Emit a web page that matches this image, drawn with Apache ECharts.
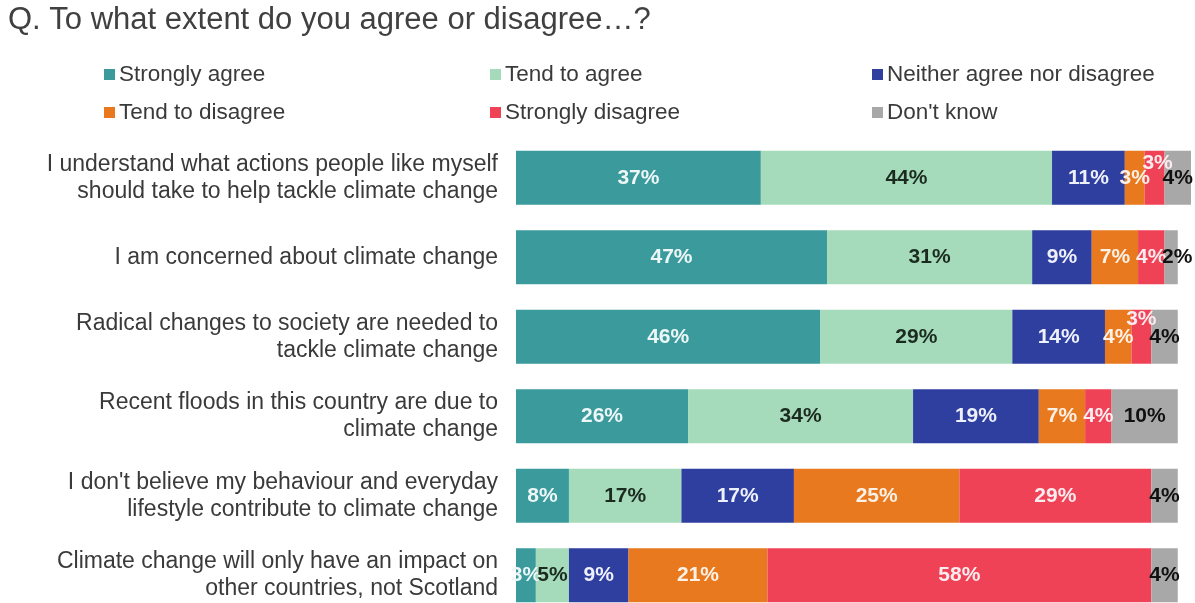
<!DOCTYPE html>
<html>
<head>
<meta charset="utf-8">
<script src="https://cdn.jsdelivr.net/npm/echarts@6/dist/echarts.min.js"></script>
<style>
  html, body { margin: 0; padding: 0; background: #ffffff; }
  #chart { width: 1195px; height: 603px; }
</style>
</head>
<body>
<div id="chart"></div>
<script>
// Survey statements (top to bottom)
const statements = [
  'I understand what actions people like myself\nshould take to help tackle climate change',
  'I am concerned about climate change',
  'Radical changes to society are needed to\ntackle climate change',
  'Recent floods in this country are due to\nclimate change',
  "I don't believe my behaviour and everyday\nlifestyle contribute to climate change",
  'Climate change will only have an impact on\nother countries, not Scotland'
];

// Response shares, % (one value per statement)
const stronglyAgree   = [37, 47, 46, 26, 8, 3];
const tendToAgree     = [44, 31, 29, 34, 17, 5];
const neither         = [11, 9, 14, 19, 17, 9];
const tendToDisagree  = [3, 7, 4, 7, 25, 21];
const stronglyDisagree = [3, 4, 3, 4, 29, 58];
const dontKnow        = [4, 2, 4, 10, 4, 4];

const responseNames = ['Strongly agree', 'Tend to agree', 'Neither agree nor disagree',
  'Tend to disagree', 'Strongly disagree', "Don't know"];
const responseValues = [stronglyAgree, tendToAgree, neither, tendToDisagree, stronglyDisagree, dontKnow];
const colors = ['#3a9a9c', '#a5dbbb', '#2e3fa0', '#e8791f', '#ef4257', '#a8a8a8'];
const labelColors = ['#eef7f7', '#1c2b20', '#eef0fb', '#fdf1e6', '#fdecef', '#111111'];

const FONT = 'Liberation Sans, Arial, sans-serif';

// Small segments whose labels are nudged so they stay readable
const labelNudges = {
  '4-0': [3, -15],
  '4-2': [0, -18],
  '5-1': [6, 0]
};

const series = responseNames.map((name, s) => ({
  name: name,
  type: 'bar',
  stack: 'total',
  barWidth: 54,
  itemStyle: { color: colors[s] },
  label: {
    show: true,
    position: 'inside',
    formatter: '{c}%',
    color: labelColors[s],
    fontFamily: FONT,
    fontWeight: 'bold',
    fontSize: 21
  },
  data: responseValues[s].map((v, i) => {
    const nudge = labelNudges[s + '-' + i];
    return nudge ? { value: v, label: { offset: nudge } } : v;
  })
}));

// One legend block per response, laid out in a 3 x 2 grid
const legendCols = [104, 490, 872];
const legendRows = [63, 101];
const legends = responseNames.map((name, k) => ({
  data: [name],
  left: legendCols[k % 3],
  top: legendRows[Math.floor(k / 3)],
  padding: 0,
  icon: 'rect',
  itemWidth: 11,
  itemHeight: 11,
  itemGap: 0,
  selectedMode: false,
  textStyle: {
    fontFamily: FONT,
    fontSize: 22.5,
    color: '#3a3a3a',
    padding: [0, 0, 0, -1]
  }
}));

const chart = echarts.init(document.getElementById('chart'), null, { renderer: 'canvas' });
chart.setOption({
  backgroundColor: '#ffffff',
  animation: false,
  color: colors,
  title: {
    text: 'Q. To what extent do you agree or disagree\u2026?',
    left: 8,
    top: 5,
    padding: 0,
    textStyle: {
      fontFamily: FONT,
      fontWeight: 'normal',
      fontSize: 31,
      color: '#404040'
    }
  },
  legend: legends,
  grid: { left: 516, top: 138, width: 675, height: 477, outerBoundsMode: 'none' },
  xAxis: {
    type: 'value',
    min: 0,
    max: 102,
    show: false
  },
  yAxis: {
    type: 'category',
    inverse: true,
    data: statements,
    axisLine: { show: false },
    axisTick: { show: false },
    splitLine: { show: false },
    axisLabel: {
      margin: 18,
      fontFamily: FONT,
      fontSize: 23,
      lineHeight: 27,
      color: '#3a3a3a',
      align: 'right'
    }
  },
  series: series
});
</script>
</body>
</html>
